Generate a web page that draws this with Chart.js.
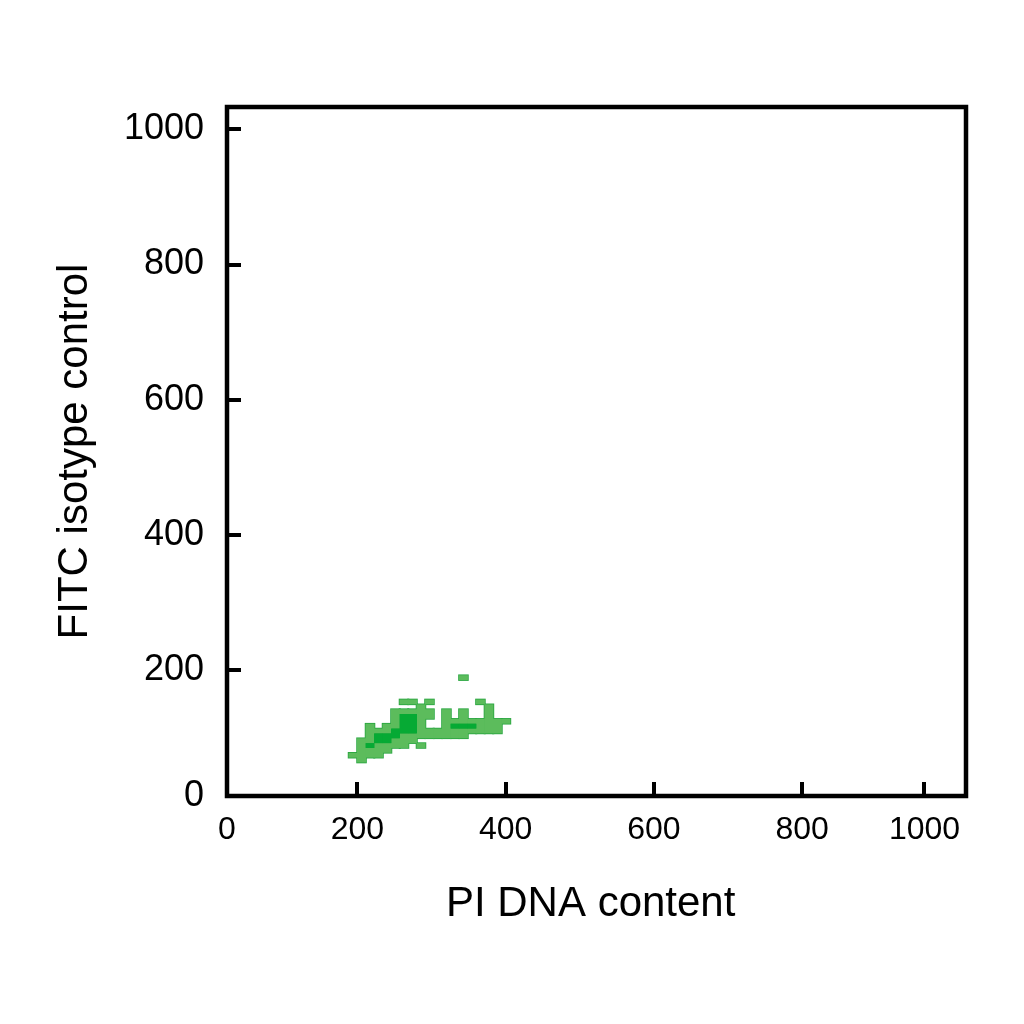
<!DOCTYPE html>
<html>
<head>
  <meta charset="utf-8">
  <title>FITC isotype control vs PI DNA content</title>
  <script src="https://cdn.jsdelivr.net/npm/chart.js"></script>
  <style>
    html, body { margin: 0; padding: 0; background: #fff; }
    #wrap { width: 1024px; height: 1024px; }
  </style>
</head>
<body>
<div id="wrap"><canvas id="plot" width="1024" height="1024"></canvas></div>
<script>
// axis ranges and ticks (tick values sit where the labels are printed)
const xRange      = [24, 1021];
const yRange      = [14, 1033];
const xTickValues = [24, 200, 400, 600, 800, 965];
const xTickLabels = ['0', '200', '400', '600', '800', '1000'];
const yTickValues = [14, 200, 400, 600, 800, 1000];
const yTickLabels = ['0', '200', '400', '600', '800', '1000'];

// density grid: bins in PI / FITC units, rows listed top (high FITC) to bottom
const xBinStart  = 188.3;
const xBinWidth  = 11.46;
const yBinTop    = 192.6;
const yBinHeight = 7.17;
// '.' = empty, 'l' = low density, 'd' = high density
const densityRows = [
  '.............l.....',
  '...................',
  '...................',
  '...................',
  '...................',
  '......ll.l.....l...',
  '........l.......l..',
  '.....lllll.l.l..l..',
  '.....lddll.l.l..l..',
  '.....lddl..llllllll',
  '..l.llddl..ldddlll.',
  '..llldddllllllllll.',
  '..ldddllllllll.....',
  '.llddlll...........',
  '.ldllll.l..........',
  '.llll..............',
  'llll...............',
  '.l.................',
];

// merge vertical runs of the given levels into floating bars
function binBars(levels, pad) {
  const out = [];
  const nCols = densityRows[0].length;
  for (let k = 0; k < nCols; k++) {
    let r = 0;
    while (r < densityRows.length) {
      if (levels.includes(densityRows[r][k])) {
        const start = r;
        while (r < densityRows.length && levels.includes(densityRows[r][k])) r++;
        out.push({
          x: xBinStart + xBinWidth * (k + 0.5),
          y: [yBinTop - yBinHeight * r - pad, yBinTop - yBinHeight * start + pad]
        });
      } else {
        r++;
      }
    }
  }
  return out;
}

const frame = {
  id: 'frame',
  afterDatasetsDraw(chart) {
    const { ctx, chartArea: a } = chart;
    ctx.save();
    ctx.strokeStyle = '#000';
    ctx.lineWidth = 4.5;
    ctx.strokeRect(a.left, a.top, a.right - a.left, a.bottom - a.top);
    ctx.restore();
  }
};

const barStyle = { grouped: false, borderWidth: 0, barPercentage: 1.06, categoryPercentage: 1 };

new Chart(document.getElementById('plot'), {
  type: 'bar',
  data: {
    datasets: [
      // thin darker rim round the populated bins, drawn underneath
      { label: 'rim',  data: binBars('ld', 1.2), backgroundColor: 'rgb(38,165,62)', ...barStyle, barPercentage: 1.24, order: 3 },
      { label: 'low',  data: binBars('l', 0), backgroundColor: 'rgb(92,188,92)', ...barStyle, order: 2 },
      { label: 'high', data: binBars('d', 0), backgroundColor: 'rgb(6,170,52)', ...barStyle, order: 1 },
    ]
  },
  options: {
    responsive: false,
    animation: false,
    layout: { padding: { top: 107, right: 58, left: 0, bottom: 0 } },
    plugins: { legend: { display: false }, tooltip: { enabled: false } },
    scales: {
      x: {
        type: 'linear',
        min: xRange[0], max: xRange[1],
        offset: false,
        afterFit: s => { s.height = 228; },
        afterBuildTicks: s => { s.ticks = xTickValues.map(v => ({ value: v })); },
        border: { display: false },
        grid: {
          offset: false, drawOnChartArea: false, tickLength: -14, lineWidth: 4,
          tickColor: c => (c.index === 0 ? 'rgba(0,0,0,0)' : '#000')
        },
        ticks: {
          autoSkip: false, maxRotation: 0, padding: 29, color: '#000',
          font: { family: '"Liberation Sans Narrow", "Liberation Sans", Arial, sans-serif', size: 32 },
          callback: (v, i) => xTickLabels[i]
        },
        title: {
          display: true, text: 'PI DNA content ', color: '#000',
          font: { family: '"Liberation Sans", Arial, sans-serif', size: 42 },
          padding: { top: 0, bottom: 94 }
        }
      },
      y: {
        type: 'linear',
        min: yRange[0], max: yRange[1],
        afterFit: s => { s.width = 227; },
        afterBuildTicks: s => { s.ticks = yTickValues.map(v => ({ value: v })); },
        border: { display: false },
        grid: {
          drawOnChartArea: false, tickLength: -14, lineWidth: 4,
          tickColor: c => (c.index === 0 ? 'rgba(0,0,0,0)' : '#000')
        },
        ticks: {
          autoSkip: false, padding: 37, color: '#000',
          font: { family: '"Liberation Sans", Arial, sans-serif', size: 36 },
          callback: (v, i) => yTickLabels[i]
        },
        title: {
          display: true, text: 'FITC isotype control', color: '#000',
          font: { family: '"Liberation Sans", Arial, sans-serif', size: 42 },
          padding: { top: 50, bottom: 0 }
        }
      }
    }
  },
  plugins: [frame]
});
</script>
</body>
</html>
